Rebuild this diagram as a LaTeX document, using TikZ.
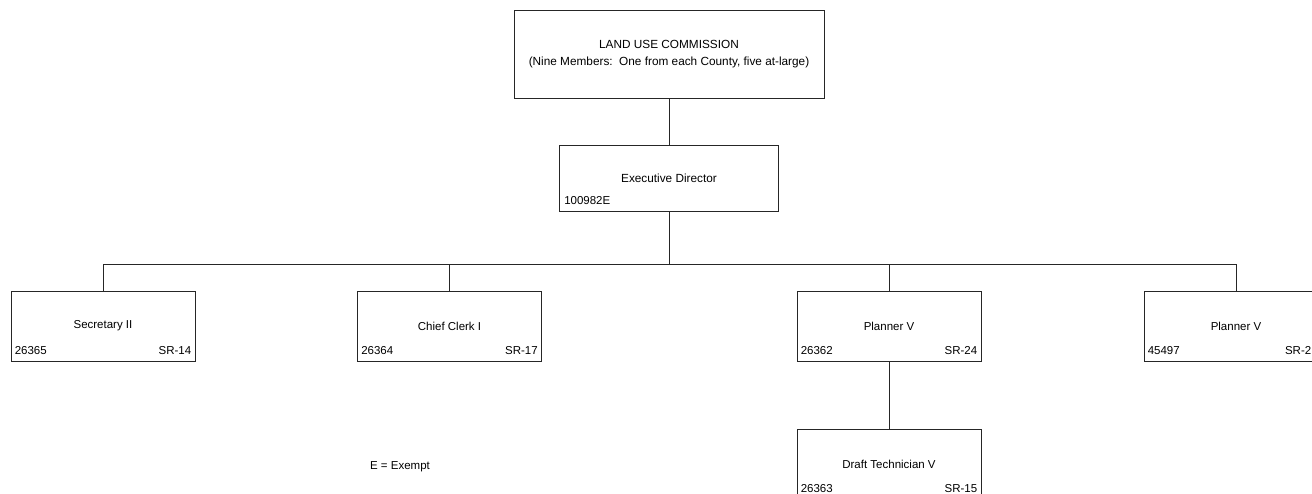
\documentclass[tikz,border=0pt]{standalone}
\usepackage{fontspec}
\setmainfont{Liberation Sans}
\begin{document}
\begin{tikzpicture}[x=1pt, y=-1pt,
  post/.style={draw=black!85, line width=0.9pt, minimum width=184pt, minimum height=70pt, inner sep=0pt, font=\POSTFONT},
  postnum/.style={inner sep=0pt, font=\POSTFONT},
  link/.style={draw=black!85, line width=0.8pt}]

  \newcommand\POSTFONT{\fontsize{11.5}{14}\selectfont}
  \newcommand\ROW{326}
  \newcommand\NUMUP{7pt}

  \useasboundingbox (0,0) rectangle (1312,493);

  \node[post, minimum width=310pt, minimum height=88pt, align=center, font=\fontsize{11.8}{14}\selectfont] (luc) at (669,54)
    {LAND USE COMMISSION\\[3pt](Nine Members:~~One from each County, five at-large)};
  \node[post, minimum width=219pt, minimum height=66pt, font=\fontsize{11.8}{14}\selectfont] (ed) at (669,178) {Executive Director};
  \node[postnum, anchor=base west] (ed-id) at ([xshift=5pt, yshift=\NUMUP]ed.south west) {100982E};

  \node[post] (sec) at (103,\ROW) {Secretary II};
  \node[post] (clerk) at (449.5,\ROW) {Chief Clerk I};
  \node[post] (plan-a) at (889,\ROW) {Planner V};
  \node[post] (plan-b) at (1236,\ROW) {Planner V};
  \node[post] (draft) at (889,464) {Draft Technician V};

  \node[postnum, anchor=base west] (sec-id) at ([xshift=4pt, yshift=\NUMUP]sec.south west) {26365};
  \node[postnum, anchor=base east] (sec-sr) at ([xshift=-4pt, yshift=\NUMUP]sec.south east) {SR-14};
  \node[postnum, anchor=base west] (clerk-id) at ([xshift=4pt, yshift=\NUMUP]clerk.south west) {26364};
  \node[postnum, anchor=base east] (clerk-sr) at ([xshift=-4pt, yshift=\NUMUP]clerk.south east) {SR-17};
  \node[postnum, anchor=base west] (plan-a-id) at ([xshift=4pt, yshift=\NUMUP]plan-a.south west) {26362};
  \node[postnum, anchor=base east] (plan-a-sr) at ([xshift=-4pt, yshift=\NUMUP]plan-a.south east) {SR-24};
  \node[postnum, anchor=base west] (plan-b-id) at ([xshift=4pt, yshift=\NUMUP]plan-b.south west) {45497};
  \node[postnum, anchor=base east] (plan-b-sr) at ([xshift=-17pt, yshift=\NUMUP]plan-b.south east) {SR-2};
  \node[postnum, anchor=base west] (draft-id) at ([xshift=4pt, yshift=\NUMUP]draft.south west) {26363};
  \node[postnum, anchor=base east] (draft-sr) at ([xshift=-4pt, yshift=\NUMUP]draft.south east) {SR-15};

  \node[postnum] (note) at (400,467) {E = Exempt};

  \coordinate (bus) at (669,264);

  \draw[link] (luc) -- (ed);
  \draw[link] (ed) -- (bus);
  \draw[link] (bus) -| (sec.north);
  \draw[link] (bus) -| (clerk.north);
  \draw[link] (bus) -| (plan-a.north);
  \draw[link] (bus) -| (plan-b.north);
  \draw[link] (plan-a) -- (draft);

\end{tikzpicture}
\end{document}
